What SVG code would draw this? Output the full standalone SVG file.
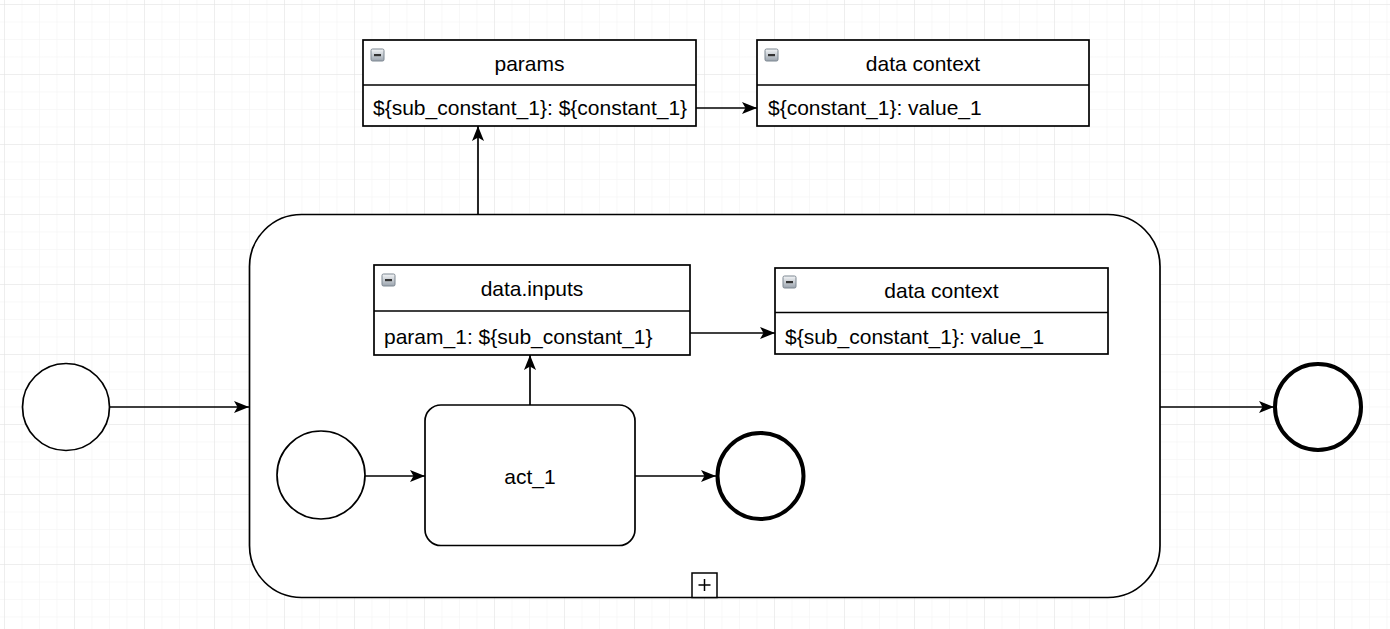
<svg xmlns="http://www.w3.org/2000/svg" width="1390" height="629" viewBox="0 0 1390 629">
<defs>
<pattern id="minor" x="4" y="4" width="17.5" height="17.5" patternUnits="userSpaceOnUse">
<path d="M0 0H17.5M0 0V17.5" fill="none" stroke="#f2f2f2" stroke-width="1"/>
</pattern>
<pattern id="major" x="4" y="4" width="70" height="70" patternUnits="userSpaceOnUse">
<path d="M0 0H70M0 0V70" fill="none" stroke="#e3e3e3" stroke-width="1"/>
</pattern>
<linearGradient id="ig" x1="0" y1="0" x2="0" y2="1">
<stop offset="0" stop-color="#f4f6f8"/>
<stop offset="1" stop-color="#9aa3ad"/>
</linearGradient>
<marker id="arr" viewBox="0 0 15 12" refX="15" refY="6" markerWidth="15" markerHeight="12" markerUnits="userSpaceOnUse" orient="auto">
<path d="M0 0L15 6L0 12L3.5 6Z" fill="#000"/>
</marker>
<g id="icon">
<rect x="0" y="0" width="13" height="12" rx="1.5" fill="url(#ig)" stroke="#7d8791" stroke-width="1"/>
<rect x="3" y="5" width="7" height="2.2" fill="#333"/>
</g>
</defs>
<style>
.t{font-family:"Liberation Sans",Arial,Helvetica,sans-serif;font-size:21px;fill:#000}
.c{text-anchor:middle}
.box{fill:#fff;stroke:#000;stroke-width:1.7}
.ev{fill:#fff;stroke:#000;stroke-width:1.7}
.end{fill:#fff;stroke:#000;stroke-width:4}
.ln{fill:none;stroke:#000;stroke-width:1.7}
.edge{fill:none;stroke:#000;stroke-width:1.7;marker-end:url(#arr)}
</style>
<rect width="1390" height="629" fill="#fff"/>
<rect width="1390" height="629" fill="url(#minor)"/>
<rect width="1390" height="629" fill="url(#major)"/>

<g id="subprocess">
<rect x="249.5" y="214.5" width="910.5" height="383" rx="52" ry="52" class="box"/>
<rect x="692" y="573" width="25" height="24.5" fill="#fff" stroke="#000" stroke-width="1.5"/>
<path d="M704.5 579V591M698.5 585H710.5" stroke="#000" stroke-width="1.5"/>
</g>

<g id="params">
<rect x="363" y="40" width="333" height="86" class="box"/>
<line x1="363" y1="85" x2="696" y2="85" class="ln"/>
<use href="#icon" x="371" y="49"/>
<text x="529.5" y="71" class="t c">params</text>
<text x="373" y="115" class="t">${sub_constant_1}: ${constant_1}</text>
</g>

<g id="data_context_1">
<rect x="757" y="40" width="332" height="86" class="box"/>
<line x1="757" y1="85" x2="1089" y2="85" class="ln"/>
<use href="#icon" x="765" y="49"/>
<text x="923" y="71" class="t c">data context</text>
<text x="768" y="115" class="t">${constant_1}: value_1</text>
</g>

<g id="data_inputs">
<rect x="374" y="265" width="316" height="90" class="box"/>
<line x1="374" y1="311" x2="690" y2="311" class="ln"/>
<use href="#icon" x="382" y="274"/>
<text x="532" y="296" class="t c">data.inputs</text>
<text x="384" y="344" class="t">param_1: ${sub_constant_1}</text>
</g>

<g id="data_context_2">
<rect x="775" y="268" width="333" height="86" class="box"/>
<line x1="775" y1="312.5" x2="1108" y2="312.5" class="ln"/>
<use href="#icon" x="783" y="276"/>
<text x="941.5" y="298" class="t c">data context</text>
<text x="785" y="344" class="t">${sub_constant_1}: value_1</text>
</g>

<g id="start_outer">
<circle cx="66" cy="407" r="43.5" class="ev"/>
</g>
<g id="end_outer">
<circle cx="1318" cy="407" r="43" class="end"/>
</g>
<g id="start_inner">
<circle cx="321" cy="475" r="44" class="ev"/>
</g>
<g id="act_1">
<rect x="425" y="405" width="210" height="140.5" rx="16" ry="16" class="box"/>
<text x="530" y="484" class="t c">act_1</text>
</g>
<g id="end_inner">
<circle cx="760.5" cy="476" r="43" class="end"/>
</g>

<g id="connectors">
<path d="M110 407H249" class="edge"/>
<path d="M1160 407H1274" class="edge"/>
<path d="M478 214V126" class="edge"/>
<path d="M696 108H757" class="edge"/>
<path d="M690 333H775" class="edge"/>
<path d="M530 405V355" class="edge"/>
<path d="M365 476H425" class="edge"/>
<path d="M635 476H716" class="edge"/>
</g>
</svg>
